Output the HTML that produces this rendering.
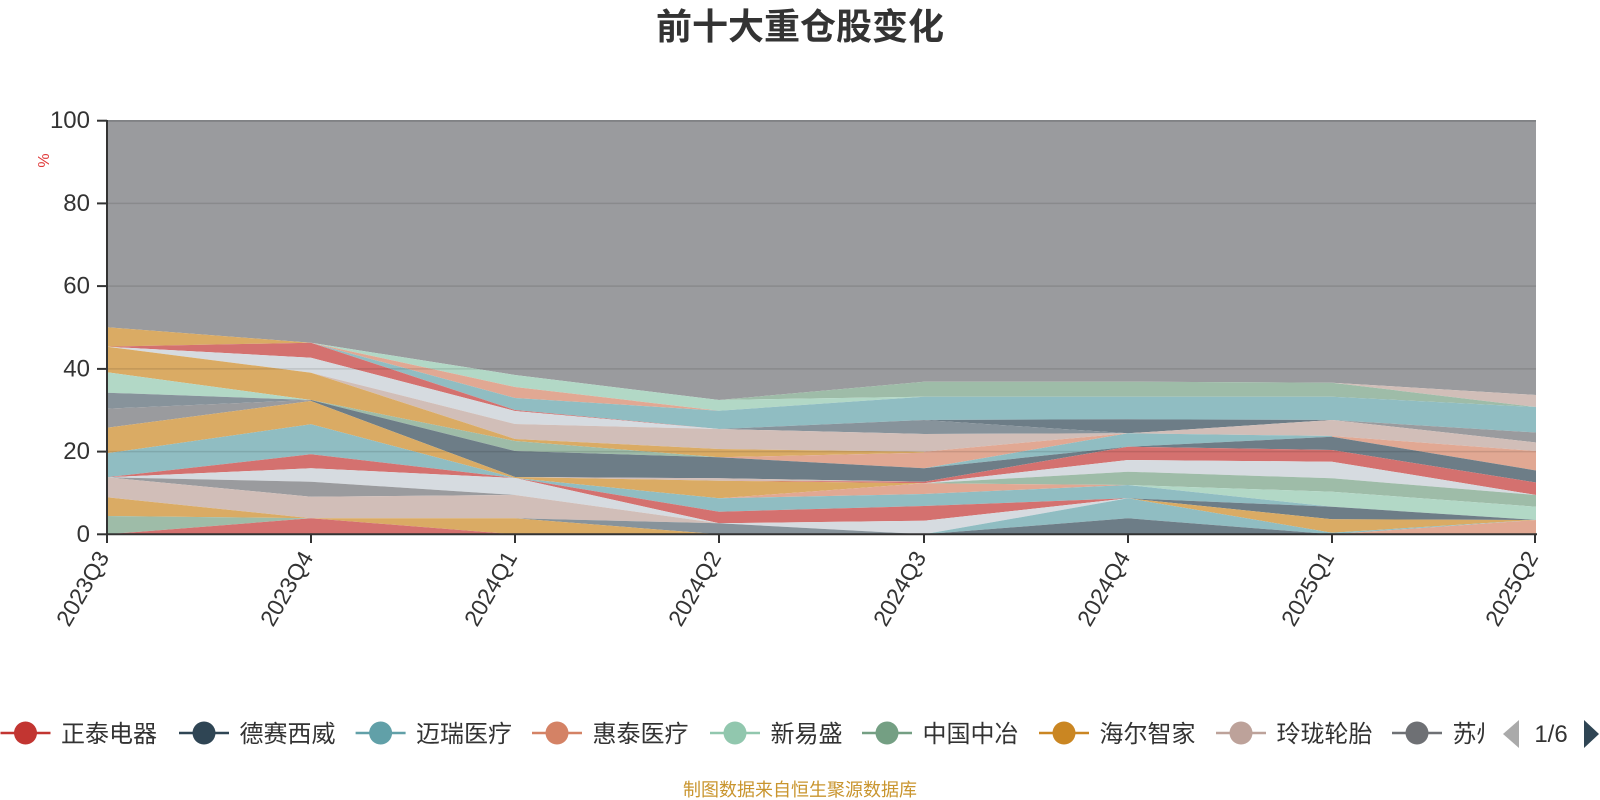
<!DOCTYPE html>
<html>
<head>
<meta charset="utf-8">
<style>
  html,body{margin:0;padding:0;background:#fff;}
  svg{display:block;}
  .R{fill:#d4716f}.SL{fill:#6d7d87}.T{fill:#90bdc2}.SA{fill:#e1a893}.M{fill:#b2d8c6}
  .S{fill:#9ebca8}.O{fill:#daab64}.B{fill:#d1beb8}.G{fill:#9a9b9e}.BG{fill:#87939b}.W{fill:#d6dbe0}
  text{font-family:"Liberation Sans","Noto Sans CJK SC",sans-serif;}
</style>
</head>
<body>
<svg width="1600" height="800" viewBox="0 0 1600 800" xmlns="http://www.w3.org/2000/svg">
  <!-- Title -->
  <text x="800" y="39" text-anchor="middle" font-size="36" font-weight="bold" fill="#333">前十大重仓股变化</text>

  <!-- % label -->
  <text x="0" y="0" transform="translate(49,160.5) rotate(-90)" text-anchor="middle" font-size="16" fill="#e03a3a">%</text>

  <g class="areas">
    <!-- other (top gray) -->
    <polygon class="G" points="107,120.7 1536,120.7 1536,395 1332,382.7 1128,381.7 924,381.7 719,400 515,375 311,342.7 107,327.3"/>

    <!-- Segment 1 -->
    <polygon class="O" points="107,327.3 311,342.7 311,342.7 107,346.7"/>
    <polygon class="R" points="107,346.7 311,342.7 311,357.7 107,346.7"/>
    <polygon class="W" points="107,346.7 311,357.7 311,372.7 107,346.7"/>
    <polygon class="O" points="107,346.7 311,372.7 311,400 107,372.3"/>
    <polygon class="M" points="107,372.3 311,400 311,400 107,392.7"/>
    <polygon class="BG" points="107,392.7 311,400 311,400 107,408.7"/>
    <polygon class="G" points="107,408.7 311,400 311,401 107,427.7"/>
    <polygon class="O" points="107,427.7 311,401 311,424.3 107,453.3"/>
    <polygon class="T" points="107,453.3 311,424.3 311,454.3 107,477.3"/>
    <polygon class="R" points="107,477.3 311,454.3 311,468.3 107,477.3"/>
    <polygon class="W" points="107,477.3 311,468.3 311,481.7 107,477.3"/>
    <polygon class="G" points="107,477.3 311,481.7 311,496.7 107,477.3"/>
    <polygon class="B" points="107,477.3 311,496.7 311,518.3 107,497.3"/>
    <polygon class="O" points="107,497.3 311,518.3 311,518.3 107,516"/>
    <polygon class="S" points="107,516 311,518.3 311,518.3 107,534.3"/>
    <polygon class="R" points="107,534.3 311,518.3 311,534.3 107,534.3"/>

    <!-- Segment 2 -->
    <polygon class="M" points="311,342.7 515,375 515,387 311,342.7"/>
    <polygon class="SA" points="311,342.7 515,387 515,398 311,342.7"/>
    <polygon class="T" points="311,342.7 515,398 515,410 311,342.7"/>
    <polygon class="R" points="311,342.7 515,410 515,411 311,357.7"/>
    <polygon class="W" points="311,357.7 515,411 515,424 311,372.7"/>
    <polygon class="B" points="311,372.7 515,424 515,439 311,372.7"/>
    <polygon class="O" points="311,372.7 515,439 515,441 311,400"/>
    <polygon class="S" points="311,400 515,441 515,451 311,400"/>
    <polygon class="SL" points="311,400 515,451 515,477 311,401"/>
    <polygon class="O" points="311,401 515,477 515,478 311,424.3"/>
    <polygon class="T" points="311,424.3 515,478 515,478 311,454.3"/>
    <polygon class="R" points="311,454.3 515,478 515,478 311,468.3"/>
    <polygon class="W" points="311,468.3 515,478 515,495 311,481.7"/>
    <polygon class="G" points="311,481.7 515,495 515,495 311,496.7"/>
    <polygon class="B" points="311,496.7 515,495 515,518.3 311,518.3"/>
    <polygon class="O" points="311,518.3 515,518.3 515,534.3 311,518.3"/>
    <polygon class="R" points="311,518.3 515,534.3 515,534.3 311,534.3"/>

    <!-- Segment 3 -->
    <polygon class="M" points="515,375 719,400 719,410.7 515,387"/>
    <polygon class="SA" points="515,387 719,410.7 719,410.7 515,398"/>
    <polygon class="T" points="515,398 719,410.7 719,429 515,410"/>
    <polygon class="R" points="515,410 719,429 719,429 515,411"/>
    <polygon class="W" points="515,411 719,429 719,429 515,424"/>
    <polygon class="B" points="515,424 719,429 719,449 515,439"/>
    <polygon class="O" points="515,439 719,449 719,457.3 515,441"/>
    <polygon class="S" points="515,441 719,457.3 719,457.3 515,451"/>
    <polygon class="SL" points="515,451 719,457.3 719,478.3 515,477"/>
    <polygon class="B" points="515,477 719,478.3 719,480.7 515,477"/>
    <polygon class="O" points="515,477 719,480.7 719,498.3 515,478"/>
    <polygon class="T" points="515,478 719,498.3 719,511.7 515,478"/>
    <polygon class="R" points="515,478 719,511.7 719,523.3 515,478"/>
    <polygon class="W" points="515,478 719,523.3 719,523.3 515,495"/>
    <polygon class="B" points="515,495 719,523.3 719,523.3 515,518.3"/>
    <polygon class="BG" points="515,518.3 719,523.3 719,534.3 515,518.3"/>
    <polygon class="O" points="515,518.3 719,534.3 719,534.3 515,534.3"/>

    <!-- Segment 4 -->
    <polygon class="S" points="719,400 924,381.7 924,396.7 719,400"/>
    <polygon class="M" points="719,400 924,396.7 924,396.7 719,410.7"/>
    <polygon class="T" points="719,410.7 924,396.7 924,420 719,429"/>
    <polygon class="BG" points="719,429 924,420 924,434 719,429"/>
    <polygon class="B" points="719,429 924,434 924,451.7 719,449"/>
    <polygon class="O" points="719,449 924,451.7 924,452.7 719,457.3"/>
    <polygon class="SA" points="719,457.3 924,452.7 924,468.3 719,457.3"/>
    <polygon class="SL" points="719,457.3 924,468.3 924,481.7 719,478.3"/>
    <polygon class="B" points="719,478.3 924,481.7 924,481.7 719,480.7"/>
    <polygon class="R" points="719,480.7 924,481.7 924,483.3 719,480.7"/>
    <polygon class="O" points="719,480.7 924,483.3 924,483.3 719,498.3"/>
    <polygon class="SA" points="719,498.3 924,483.3 924,494 719,498.3"/>
    <polygon class="T" points="719,498.3 924,494 924,506 719,511.7"/>
    <polygon class="R" points="719,511.7 924,506 924,520.7 719,523.3"/>
    <polygon class="W" points="719,523.3 924,520.7 924,534.3 719,523.3"/>
    <polygon class="BG" points="719,523.3 924,534.3 924,534.3 719,534.3"/>

    <!-- Segment 5 -->
    <polygon class="S" points="924,381.7 1128,381.7 1128,396.7 924,396.7"/>
    <polygon class="T" points="924,396.7 1128,396.7 1128,419.3 924,420"/>
    <polygon class="SL" points="924,420 1128,419.3 1128,433.3 924,420"/>
    <polygon class="BG" points="924,420 1128,433.3 1128,433.3 924,434"/>
    <polygon class="B" points="924,434 1128,433.3 1128,433.3 924,451.7"/>
    <polygon class="SA" points="924,451.7 1128,433.3 1128,433.3 924,468.3"/>
    <polygon class="T" points="924,468.3 1128,433.3 1128,446.7 924,468.3"/>
    <polygon class="SL" points="924,468.3 1128,446.7 1128,446.7 924,481.7"/>
    <polygon class="R" points="924,481.7 1128,446.7 1128,460 924,483.3"/>
    <polygon class="W" points="924,483.3 1128,460 1128,471.7 924,483.3"/>
    <polygon class="S" points="924,483.3 1128,471.7 1128,485 924,483.3"/>
    <polygon class="SA" points="924,483.3 1128,485 1128,485 924,494"/>
    <polygon class="T" points="924,494 1128,485 1128,498.3 924,506"/>
    <polygon class="R" points="924,506 1128,498.3 1128,498.3 924,520.7"/>
    <polygon class="W" points="924,520.7 1128,498.3 1128,498.3 924,534.3"/>
    <polygon class="T" points="924,534.3 1128,498.3 1128,518.3 924,534.3"/>
    <polygon class="SL" points="924,534.3 1128,518.3 1128,534.3 924,534.3"/>

    <!-- Segment 6 -->
    <polygon class="S" points="1128,381.7 1332,382.7 1332,396.7 1128,396.7"/>
    <polygon class="T" points="1128,396.7 1332,396.7 1332,420 1128,419.3"/>
    <polygon class="SL" points="1128,419.3 1332,420 1332,420 1128,433.3"/>
    <polygon class="B" points="1128,433.3 1332,420 1332,436 1128,433.3"/>
    <polygon class="T" points="1128,433.3 1332,436 1332,436.7 1128,446.7"/>
    <polygon class="SL" points="1128,446.7 1332,436.7 1332,450 1128,446.7"/>
    <polygon class="R" points="1128,446.7 1332,450 1332,461.7 1128,460"/>
    <polygon class="W" points="1128,460 1332,461.7 1332,478.3 1128,471.7"/>
    <polygon class="S" points="1128,471.7 1332,478.3 1332,491.7 1128,485"/>
    <polygon class="M" points="1128,485 1332,491.7 1332,506.7 1128,485"/>
    <polygon class="T" points="1128,485 1332,506.7 1332,506.7 1128,498.3"/>
    <polygon class="SL" points="1128,498.3 1332,506.7 1332,519.3 1128,498.3"/>
    <polygon class="O" points="1128,498.3 1332,519.3 1332,532.7 1128,498.3"/>
    <polygon class="T" points="1128,498.3 1332,532.7 1332,534.3 1128,518.3"/>
    <polygon class="SL" points="1128,518.3 1332,534.3 1332,534.3 1128,534.3"/>

    <!-- Segment 7 -->
    <polygon class="B" points="1332,382.7 1536,395 1536,407 1332,382.7"/>
    <polygon class="S" points="1332,382.7 1536,407 1536,407 1332,396.7"/>
    <polygon class="T" points="1332,396.7 1536,407 1536,432.5 1332,420"/>
    <polygon class="G" points="1332,420 1536,432.5 1536,442.5 1332,420"/>
    <polygon class="B" points="1332,420 1536,442.5 1536,451 1332,436"/>
    <polygon class="SA" points="1332,436 1536,451 1536,470.5 1332,436.7"/>
    <polygon class="SL" points="1332,436.7 1536,470.5 1536,482.5 1332,450"/>
    <polygon class="R" points="1332,450 1536,482.5 1536,495 1332,461.7"/>
    <polygon class="W" points="1332,461.7 1536,495 1536,495 1332,478.3"/>
    <polygon class="S" points="1332,478.3 1536,495 1536,506.7 1332,491.7"/>
    <polygon class="M" points="1332,491.7 1536,506.7 1536,520 1332,506.7"/>
    <polygon class="SL" points="1332,506.7 1536,520 1536,520 1332,519.3"/>
    <polygon class="O" points="1332,519.3 1536,520 1536,520 1332,532.7"/>
    <polygon class="T" points="1332,532.7 1536,520 1536,520 1332,534.3"/>
    <polygon class="SA" points="1332,534.3 1536,520 1536,534.3 1332,534.3"/>
  </g>

  <!-- grid lines -->
  <g stroke="rgba(0,0,0,0.11)" stroke-width="1.5">
    <line x1="107" y1="203.4" x2="1536" y2="203.4"/>
    <line x1="107" y1="286.1" x2="1536" y2="286.1"/>
    <line x1="107" y1="368.9" x2="1536" y2="368.9"/>
    <line x1="107" y1="451.6" x2="1536" y2="451.6"/>
  </g>
  <line x1="107" y1="120.7" x2="1536" y2="120.7" stroke="rgba(95,96,100,0.75)" stroke-width="1.5"/>

  <!-- axes -->
  <g stroke="#333" stroke-width="2">
    <line x1="107" y1="120" x2="107" y2="535"/>
    <line x1="106" y1="534.3" x2="1537" y2="534.3"/>
    <line x1="97" y1="120.7" x2="107" y2="120.7"/>
    <line x1="97" y1="203.4" x2="107" y2="203.4"/>
    <line x1="97" y1="286.1" x2="107" y2="286.1"/>
    <line x1="97" y1="368.9" x2="107" y2="368.9"/>
    <line x1="97" y1="451.6" x2="107" y2="451.6"/>
    <line x1="97" y1="534.3" x2="107" y2="534.3"/>
    <line x1="107" y1="534.3" x2="107" y2="543"/>
    <line x1="311" y1="534.3" x2="311" y2="543"/>
    <line x1="515" y1="534.3" x2="515" y2="543"/>
    <line x1="719" y1="534.3" x2="719" y2="543"/>
    <line x1="924" y1="534.3" x2="924" y2="543"/>
    <line x1="1128" y1="534.3" x2="1128" y2="543"/>
    <line x1="1332" y1="534.3" x2="1332" y2="543"/>
    <line x1="1535" y1="534.3" x2="1535" y2="543"/>
  </g>

  <!-- y labels -->
  <g font-size="24" fill="#333" text-anchor="end" dominant-baseline="central">
    <text x="90" y="120.7">100</text>
    <text x="90" y="203.4">80</text>
    <text x="90" y="286.1">60</text>
    <text x="90" y="368.9">40</text>
    <text x="90" y="451.6">20</text>
    <text x="90" y="534.3">0</text>
  </g>

  <!-- x labels -->
  <g font-size="23" fill="#333" text-anchor="end" dominant-baseline="central">
    <text transform="translate(103,553) rotate(-60)">2023Q3</text>
    <text transform="translate(307,553) rotate(-60)">2023Q4</text>
    <text transform="translate(511,553) rotate(-60)">2024Q1</text>
    <text transform="translate(715,553) rotate(-60)">2024Q2</text>
    <text transform="translate(920,553) rotate(-60)">2024Q3</text>
    <text transform="translate(1124,553) rotate(-60)">2024Q4</text>
    <text transform="translate(1328,553) rotate(-60)">2025Q1</text>
    <text transform="translate(1532,553) rotate(-60)">2025Q2</text>
  </g>

  <!-- legend -->
  <defs>
    <clipPath id="lgclip"><rect x="0" y="700" width="1484" height="70"/></clipPath>
  </defs>
  <g clip-path="url(#lgclip)" font-size="24" fill="#333">
    <line x1="0.5" y1="733" x2="50.5" y2="733" stroke="#c23531" stroke-width="2.5"/>
    <circle cx="25.5" cy="733" r="11.5" fill="#c23531"/>
    <text x="61" y="742">正泰电器</text>

    <line x1="179" y1="733" x2="229" y2="733" stroke="#2f4554" stroke-width="2.5"/>
    <circle cx="204" cy="733" r="11.5" fill="#2f4554"/>
    <text x="239.5" y="742">德赛西威</text>

    <line x1="355.6" y1="733" x2="405.6" y2="733" stroke="#61a0a8" stroke-width="2.5"/>
    <circle cx="380.6" cy="733" r="11.5" fill="#61a0a8"/>
    <text x="416" y="742">迈瑞医疗</text>

    <line x1="532" y1="733" x2="582" y2="733" stroke="#d48265" stroke-width="2.5"/>
    <circle cx="557" cy="733" r="11.5" fill="#d48265"/>
    <text x="592.5" y="742">惠泰医疗</text>

    <line x1="710" y1="733" x2="760" y2="733" stroke="#91c7ae" stroke-width="2.5"/>
    <circle cx="735" cy="733" r="11.5" fill="#91c7ae"/>
    <text x="770.5" y="742">新易盛</text>

    <line x1="862" y1="733" x2="912" y2="733" stroke="#749f83" stroke-width="2.5"/>
    <circle cx="887" cy="733" r="11.5" fill="#749f83"/>
    <text x="922.5" y="742">中国中冶</text>

    <line x1="1039" y1="733" x2="1089" y2="733" stroke="#ca8622" stroke-width="2.5"/>
    <circle cx="1064" cy="733" r="11.5" fill="#ca8622"/>
    <text x="1099.5" y="742">海尔智家</text>

    <line x1="1216" y1="733" x2="1266" y2="733" stroke="#bda29a" stroke-width="2.5"/>
    <circle cx="1241" cy="733" r="11.5" fill="#bda29a"/>
    <text x="1276.5" y="742">玲珑轮胎</text>

    <line x1="1392" y1="733" x2="1442" y2="733" stroke="#6e7074" stroke-width="2.5"/>
    <circle cx="1417" cy="733" r="11.5" fill="#6e7074"/>
    <text x="1452.5" y="742">苏州银行</text>
  </g>

  <!-- legend pager -->
  <polygon points="1503,734 1519,720 1519,748" fill="#aaa"/>
  <text x="1551" y="742" font-size="24" fill="#333" text-anchor="middle">1/6</text>
  <polygon points="1584,720 1599,734 1584,748" fill="#2f4554"/>

  <!-- footer -->
  <text x="800" y="796" font-size="18" fill="#c9952e" text-anchor="middle">制图数据来自恒生聚源数据库</text>
</svg>
</body>
</html>
